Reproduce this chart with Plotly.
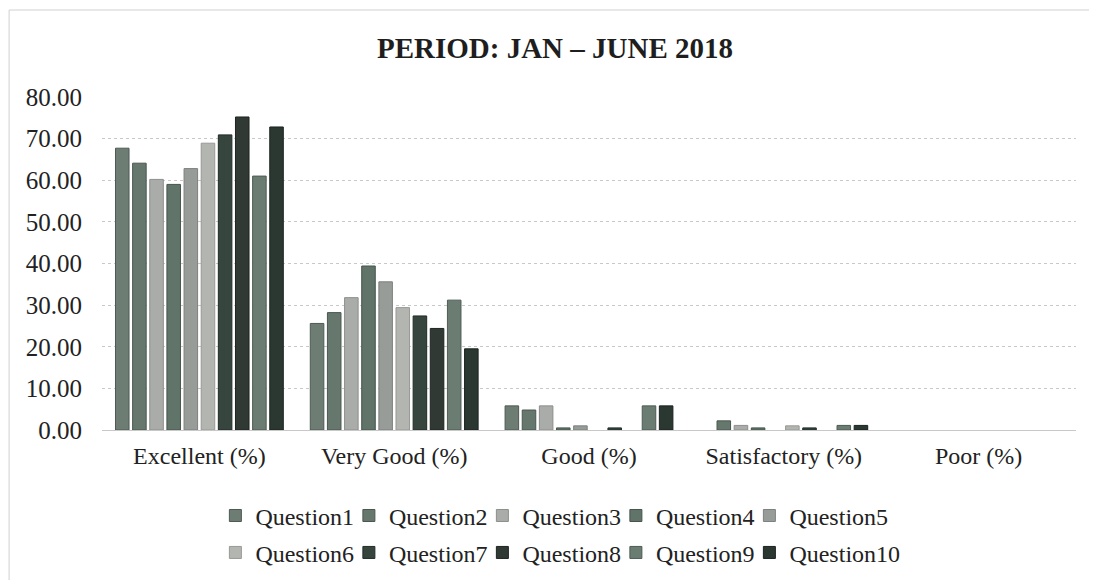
import plotly.graph_objects as go

categories = ["Excellent (%)", "Very Good (%)", "Good (%)", "Satisfactory (%)", "Poor (%)"]
questions = ["Question1", "Question2", "Question3", "Question4", "Question5",
             "Question6", "Question7", "Question8", "Question9", "Question10"]

q1 = [67.7, 25.6, 5.8, 0.0, 0.0]
q2 = [64.1, 28.2, 4.8, 2.2, 0.0]
q3 = [60.2, 31.8, 5.8, 1.1, 0.0]
q4 = [59.0, 39.4, 0.5, 0.5, 0.0]
q5 = [62.8, 35.6, 1.0, 0.0, 0.0]
q6 = [68.9, 29.4, 0.0, 1.0, 0.0]
q7 = [70.9, 27.4, 0.5, 0.5, 0.0]
q8 = [75.2, 24.4, 0.0, 0.0, 0.0]
q9 = [61.0, 31.2, 5.8, 1.1, 0.0]
q10 = [72.8, 19.5, 5.8, 1.1, 0.0]
series = [q1, q2, q3, q4, q5, q6, q7, q8, q9, q10]

colors = ["#6e7d74", "#66786d", "#a9aca8", "#617469", "#979c98",
          "#b3b5b1", "#36453e", "#303934", "#6b7d73", "#2b3832"]
edge = ["#4e5a53", "#4a574f", "#8c8f8b", "#46544c", "#7c817d",
        "#979995", "#222c27", "#1d2420", "#4d5b53", "#1a231f"]

# page body adds an 8px margin; figure is sized/positioned to compensate
W, H = 1089, 572
L, R, T, B = 93.5, 20.5, 88.6, 150
pw = W - L - R
ph = H - T - B

fig = go.Figure()
for i, (name, vals, c, e) in enumerate(zip(questions, series, colors, edge)):
    fig.add_trace(go.Bar(
        name=name, x=categories, y=vals,
        legend="legend" if i < 5 else "legend2",
        marker=dict(color=c, line=dict(color=e, width=[1 if v > 0 else 0 for v in vals]))))

# empty spacer entries (scatter, so they take no bar slot) keep the last labels unclipped
for lg in ["legend", "legend2"]:
    fig.add_trace(go.Scatter(name=" ", x=[None], y=[None], legend=lg, showlegend=True,
                             mode="markers", hoverinfo="skip",
                             marker=dict(color="rgba(0,0,0,0)", size=1)))

font_family = "Liberation Serif, Times New Roman, serif"
leg_common = dict(orientation="h", xanchor="left", yanchor="middle",
                  font=dict(family=font_family, size=24, color="#222222"),
                  entrywidth=88.5, tracegroupgap=0, traceorder="normal",
                  itemclick=False, bgcolor="rgba(0,0,0,0)")
fig.update_layout(
    width=W, height=H,
    paper_bgcolor="white", plot_bgcolor="white",
    margin=dict(l=L, r=R, t=T, b=B, autoexpand=False),
    barmode="group", bargap=0.12, bargroupgap=0.21,
    font=dict(family=font_family, size=24, color="#222222"),
    title=dict(text="<b>PERIOD: JAN – JUNE 2018</b>", x=(555 - 8) / W, xanchor="center",
               y=1 - 40 / H, yanchor="middle",
               font=dict(family=font_family, size=29, color="#1e1e1e")),
    legend=dict(x=(215 - 8 - L) / pw, y=-(516 - 8 - (H - B)) / ph, **leg_common),
    legend2=dict(x=(215 - 8 - L) / pw, y=-(553 - 8 - (H - B)) / ph, **leg_common),
    showlegend=True,
)
fig.update_yaxes(range=[0, 80], dtick=10, tickformat=".2f",
                 showgrid=True, gridcolor="#c8c8c8", griddash="dot", gridwidth=1,
                 zeroline=False, showline=False, ticks="",
                 ticklabelstandoff=19,
                 tickfont=dict(family=font_family, size=25, color="#222222"))
fig.update_xaxes(showline=True, linecolor="#c8c8c8", linewidth=1, ticks="",
                 showgrid=False, ticklabelstandoff=4,
                 tickfont=dict(family=font_family, size=24, color="#222222"))

# chart-area border
fig.add_shape(type="rect", xref="paper", yref="paper",
              x0=(0.5 - L) / pw, x1=(W + 5 - L) / pw,
              y0=-(H + 5 - (H - B)) / ph, y1=1 + (T - 1.5) / ph,
              line=dict(color="#d0d0d0", width=1), layer="below")

fig.write_html("out.html")
